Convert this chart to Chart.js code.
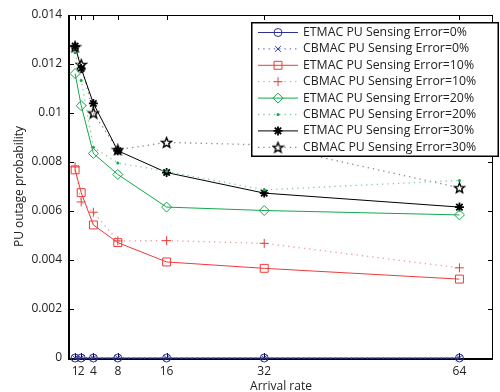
<!DOCTYPE html>
<html>
<head>
<meta charset="utf-8">
<script src="https://cdn.jsdelivr.net/npm/chart.js@4.4.1/dist/chart.umd.min.js"></script>
<style>
  html, body { margin: 0; padding: 0; background: #fff; overflow: hidden; }
  #wrap { width: 500px; height: 392px; }
</style>
</head>
<body>
<div id="wrap"><canvas id="outageChart" width="500" height="392"></canvas></div>
<script>
// data
var arrivalRates = [1, 2, 4, 8, 16, 32, 64];
var xTicks = [1, 2, 4, 8, 16, 32, 64];
var yTicks = [0, 0.002, 0.004, 0.006, 0.008, 0.01, 0.012, 0.014];

var etmac0 = [0, 0, 0, 0, 0, 0, 0];
var cbmac0 = [0, 0, 0, 0, 0, 0, 0];
var etmac10 = [0.00768, 0.00675, 0.00543, 0.00471, 0.00392, 0.00366, 0.00322];
var cbmac10 = [0.0078, 0.00637, 0.00595, 0.00478, 0.00479, 0.00468, 0.00368];
var etmac20 = [0.01161, 0.0103, 0.00835, 0.00749, 0.00616, 0.00602, 0.00584];
var cbmac20 = [0.01246, 0.01133, 0.0086, 0.00796, 0.00762, 0.00686, 0.00725];
var etmac30 = [0.01273, 0.01182, 0.01039, 0.00846, 0.00757, 0.00673, 0.00616];
var cbmac30 = [0.0127, 0.01198, 0.0100, 0.0085, 0.0088, 0.0087, 0.00695];

var legendLabels = [
  'ETMAC PU Sensing Error=0%', 'CBMAC PU Sensing Error=0%',
  'ETMAC PU Sensing Error=10%', 'CBMAC PU Sensing Error=10%',
  'ETMAC PU Sensing Error=20%', 'CBMAC PU Sensing Error=20%',
  'ETMAC PU Sensing Error=30%', 'CBMAC PU Sensing Error=30%'
];

var BLUE = '#2e3192', RED = '#ee3a3a', GREEN = '#12a84c', BLACK = '#000';
// dotted lines look paler in the original
var BLUE_DOT = '#6c6fb8', RED_DOT = '#f39a9a', GREEN_DOT = '#7fd0a0', BLACK_DOT = '#8a8a8a';
var FONT = '"Open Sans", "DejaVu Sans", sans-serif';

// outline pentagram used as the CBMAC 30% marker
function makePentagram() {
  var c = document.createElement('canvas');
  c.width = 13; c.height = 13;
  var g = c.getContext('2d');
  g.strokeStyle = '#000';
  g.lineWidth = 1.4;
  g.lineJoin = 'miter';
  g.beginPath();
  for (var i = 0; i < 10; i++) {
    var r = (i % 2 === 0) ? 5.3 : 2.3;
    var a = -Math.PI / 2 + i * Math.PI / 5;
    var px = 6.5 + r * Math.cos(a), py = 7 + r * Math.sin(a);
    if (i === 0) g.moveTo(px, py); else g.lineTo(px, py);
  }
  g.closePath();
  g.stroke();
  return c;
}
var pentagram = makePentagram();

function pts(vals) {
  return arrivalRates.map(function (x, i) { return { x: x, y: vals[i] }; });
}

function series(label, vals, color, lineColor, dashed, style, radius, width, fill) {
  return {
    label: label,
    data: pts(vals),
    borderColor: lineColor,
    backgroundColor: fill || 'rgba(0,0,0,0)',
    borderWidth: dashed ? 1.3 : 1,
    borderDash: dashed ? [1.3, 4] : [],
    pointStyle: style,
    pointRadius: radius,
    pointBorderColor: color,
    pointBackgroundColor: fill || 'rgba(0,0,0,0)',
    pointBorderWidth: width,
    tension: 0,
    clip: false,
    fill: false
  };
}

var datasets = [
  series(legendLabels[0], etmac0, BLUE, BLUE, false, 'circle', 4, 1),
  series(legendLabels[1], cbmac0, BLUE, BLUE_DOT, true, 'crossRot', 4, 1),
  series(legendLabels[2], etmac10, RED, RED, false, 'rect', 5.6, 1),
  series(legendLabels[3], cbmac10, RED, RED_DOT, true, 'cross', 4.5, 1),
  series(legendLabels[4], etmac20, GREEN, GREEN, false, 'rectRot', 5, 1),
  series(legendLabels[5], cbmac20, GREEN, GREEN_DOT, true, 'circle', 1.5, 0, GREEN),
  series(legendLabels[6], etmac30, BLACK, BLACK, false, 'star', 4.5, 1.8),
  series(legendLabels[7], cbmac30, BLACK, BLACK_DOT, true, pentagram, 6, 1)
];
// blue series on top so they cover the bottom axis like the original
datasets[0].order = -2;
datasets[1].order = -1;

// box frame and inward ticks, drawn under the data
var framePlugin = {
  id: 'frame',
  beforeDatasetsDraw: function (chart) {
    var ctx = chart.ctx, a = chart.chartArea;
    var xs = chart.scales.x, ys = chart.scales.y;
    ctx.save();
    ctx.strokeStyle = '#000';
    ctx.lineWidth = 1;
    ctx.beginPath();
    yTicks.forEach(function (v) {
      var py = Math.round(ys.getPixelForValue(v)) + 0.5;
      ctx.moveTo(a.left, py); ctx.lineTo(a.left + 5, py);
      ctx.moveTo(a.right, py); ctx.lineTo(a.right - 5, py);
    });
    xTicks.forEach(function (v) {
      var px = Math.round(xs.getPixelForValue(v)) + 0.5;
      ctx.moveTo(px, a.top); ctx.lineTo(px, a.top + 5);
      ctx.moveTo(px, a.bottom); ctx.lineTo(px, a.bottom - 5);
    });
    ctx.stroke();
    ctx.beginPath();
    ctx.moveTo(a.left, a.top + 0.5); ctx.lineTo(a.right, a.top + 0.5);
    ctx.moveTo(a.right - 0.5, a.top); ctx.lineTo(a.right - 0.5, a.bottom);
    ctx.stroke();
    ctx.lineWidth = 2;
    ctx.beginPath();
    ctx.moveTo(a.left, a.top); ctx.lineTo(a.left, a.bottom + 1);
    ctx.lineTo(a.right, a.bottom + 1);
    ctx.stroke();
    ctx.restore();
  }
};

// legend box inside the plot, painted over the lines
var legendPlugin = {
  id: 'boxLegend',
  afterDraw: function (chart) {
    var ctx = chart.ctx;
    var left = 251, top = 22, w = 248, h = 135, rowH = 16.4;
    ctx.save();
    ctx.fillStyle = '#fff';
    ctx.fillRect(left, top, w, h);
    ctx.strokeStyle = '#000';
    ctx.lineWidth = 1.5;
    ctx.strokeRect(left + 0.75, top + 0.75, w - 1.5, h - 1.5);
    chart.data.datasets.forEach(function (ds, i) {
      var cy = top + 10.5 + i * rowH;
      ctx.strokeStyle = ds.borderColor;
      ctx.lineWidth = ds.borderWidth;
      ctx.setLineDash(ds.borderDash);
      ctx.beginPath();
      ctx.moveTo(258, cy); ctx.lineTo(298, cy);
      ctx.stroke();
      ctx.setLineDash([]);
      ctx.strokeStyle = ds.pointBorderColor;
      ctx.fillStyle = ds.pointBackgroundColor;
      ctx.lineWidth = ds.pointBorderWidth;
      Chart.helpers.drawPoint(ctx, {
        pointStyle: ds.pointStyle, radius: ds.pointRadius, rotation: 0,
        borderWidth: ds.pointBorderWidth
      }, 278, cy);
      ctx.fillStyle = '#222';
      ctx.font = '12.3px ' + FONT;
      ctx.textBaseline = 'middle';
      ctx.textAlign = 'left';
      ctx.fillText(ds.label, 303, cy);
    });
    ctx.restore();
  }
};

var ctx = document.getElementById('outageChart').getContext('2d');
var chart = new Chart(ctx, {
  type: 'line',
  data: { datasets: datasets },
  options: {
    responsive: false,
    animation: false,
    layout: { padding: { top: 15, right: 1, left: 0, bottom: 0 } },
    plugins: { legend: { display: false }, tooltip: { enabled: false } },
    scales: {
      x: {
        type: 'linear',
        min: 0,
        max: 69.5,
        grid: { display: false, drawTicks: false },
        border: { display: false },
        afterBuildTicks: function (scale) {
          scale.ticks = xTicks.map(function (v) { return { value: v }; });
        },
        afterFit: function (scale) { scale.height = 34; },
        ticks: {
          autoSkip: false, maxRotation: 0, minRotation: 0, padding: 6,
          color: '#222', font: { family: FONT, size: 12 },
          callback: function (v) { return String(v); }
        },
        title: {
          display: true, text: 'Arrival rate', color: '#222',
          font: { family: FONT, size: 12 }, padding: { top: 0, bottom: -2 }
        }
      },
      y: {
        min: 0,
        max: 0.014,
        grid: { display: false, drawTicks: false },
        border: { display: false },
        afterBuildTicks: function (scale) {
          scale.ticks = yTicks.map(function (v) { return { value: v }; });
        },
        afterFit: function (scale) { scale.width = 69; },
        ticks: {
          padding: 7, color: '#222', font: { family: FONT, size: 12 },
          callback: function (v) { return String(+v.toFixed(3)); }
        },
        title: {
          display: true, text: 'PU outage probability', color: '#222',
          font: { family: FONT, size: 12 }, padding: { top: 12, bottom: 0 }
        }
      }
    }
  },
  plugins: [framePlugin, legendPlugin]
});
</script>
</body>
</html>
